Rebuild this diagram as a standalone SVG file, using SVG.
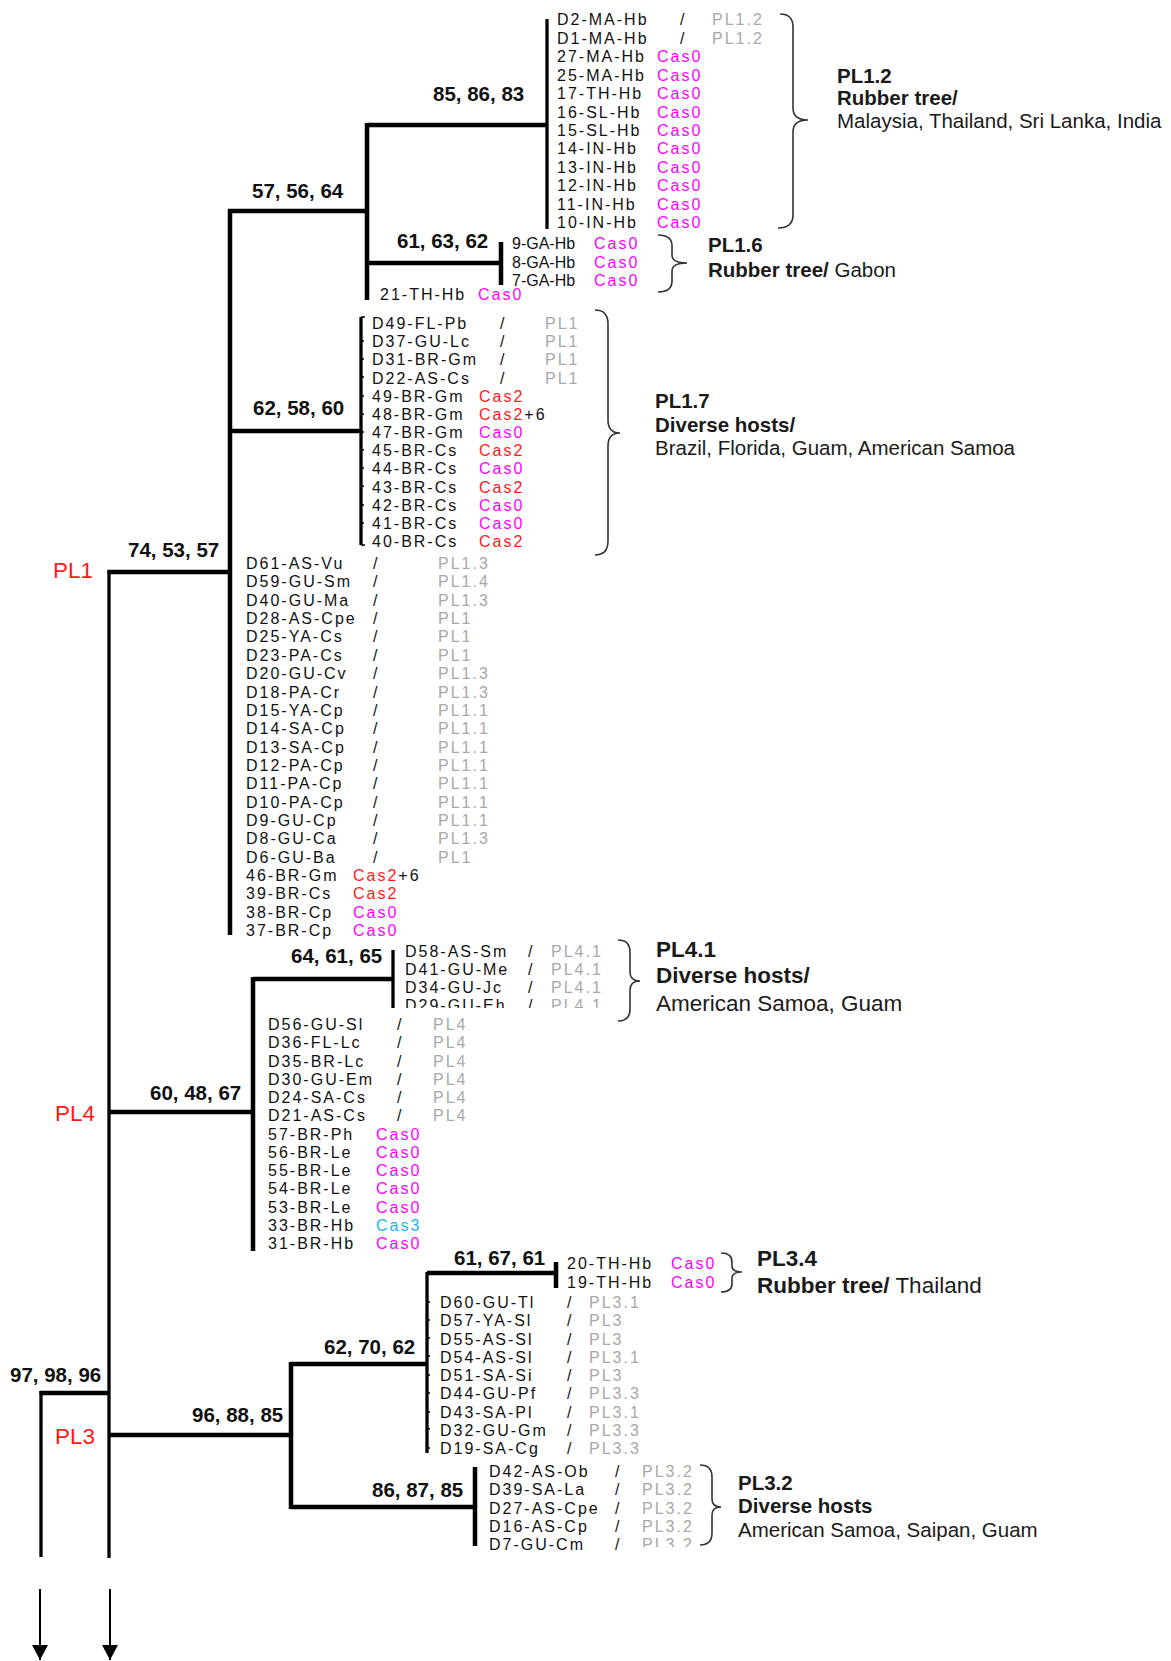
<svg xmlns="http://www.w3.org/2000/svg" width="1171" height="1661" viewBox="0 0 1171 1661">
<defs>
<style>
text{font-family:"Liberation Sans",Arial,sans-serif}
.lf{font-size:16px;letter-spacing:2px;fill:#111}
.ns{letter-spacing:0}
.g{fill:#a8a8a8}
.c0{fill:#ff00ff}
.c2{fill:#ff1a1a}
.c3{fill:#1ab8f0}
.bs{font-size:20.5px;font-weight:bold;fill:#111}
.red{font-size:22.5px;fill:#ff1a1a}
.gl{font-size:20.5px;fill:#1a1a1a}
.gl2{font-size:22.5px;fill:#1a1a1a}
.b{font-weight:bold}
.br{stroke:#000;fill:none;stroke-linecap:butt}
.t{stroke-width:4.5}
.m{stroke-width:3.3}
.brace{stroke:#333;stroke-width:1.6;fill:none}
.tick{stroke:#000;stroke-width:1.6}
</style>
<marker id="ah" markerWidth="15" markerHeight="16" refX="15" refY="8" orient="auto" markerUnits="userSpaceOnUse" viewBox="0 0 15 16">
<path d="M0,0 L15,8 L0,16 Z" fill="#000"/>
</marker>
<clipPath id="cl29"><rect x="380" y="995" width="240" height="13"/></clipPath>
<clipPath id="cl7"><rect x="630" y="1530" width="70" height="17"/></clipPath>
</defs>
<rect width="1171" height="1661" fill="#fff"/>

<g id="connectors">
<path class="br t" d="M367,125 H547"/>
<path class="br m" d="M547,19 V229"/>
<path class="br t" d="M367,123 V300"/>
<path class="br t" d="M367,263 H501"/>
<path class="br t" d="M501,242 V285"/>
<path class="br t" d="M228,211 H367"/>
<path class="br t" d="M230,209 V935"/>
<path class="br t" d="M230,431 H361"/>
<path class="br m" d="M361,317 V545"/>
<path class="br t" d="M107.5,572 H230"/>
<path class="br m" d="M109,570 V1558"/>
<path class="br t" d="M109,1112 H253"/>
<path class="br t" d="M253,977 V1251"/>
<path class="br t" d="M253,979 H393"/>
<path class="br m" d="M393,950 V1008"/>
<path class="br t" d="M109,1435 H291"/>
<path class="br t" d="M291,1362 V1509"/>
<path class="br t" d="M291,1364 H427"/>
<path class="br m" d="M427,1272 V1453"/>
<path class="br t" d="M427,1273 H556"/>
<path class="br t" d="M556,1262 V1288"/>
<path class="br t" d="M291,1507 H475"/>
<path class="br t" d="M475,1467 V1546"/>
<path class="br t" d="M39.5,1393 H109"/>
<path class="br m" d="M41,1391 V1557"/>
<path class="br" stroke-width="2" d="M40,1589 V1660" marker-end="url(#ah)"/>
<path class="br" stroke-width="2" d="M110,1589 V1660" marker-end="url(#ah)"/>
<g class="tick">
<path d="M361,317 h4 M361,341 h3 M361,359 h3 M361,377 h3 M361,396 h3 M361,414 h3 M361,432 h3 M361,450 h3 M361,468 h3 M361,486 h3 M361,505 h3 M361,523 h3 M361,545 h4"/>
<path d="M427,1302 h3 M427,1320 h3 M427,1338 h3 M427,1356 h3 M427,1375 h3 M427,1393 h3 M427,1412 h3 M427,1429 h3 M427,1448 h3"/>
</g>
</g>

<g id="support-labels" class="bs">
<text x="433" y="101">85, 86, 83</text>
<text x="252" y="198">57, 56, 64</text>
<text x="397" y="248">61, 63, 62</text>
<text x="253" y="415">62, 58, 60</text>
<text x="128" y="557">74, 53, 57</text>
<text x="291" y="963">64, 61, 65</text>
<text x="150" y="1100">60, 48, 67</text>
<text x="454" y="1265">61, 67, 61</text>
<text x="324" y="1354">62, 70, 62</text>
<text x="192" y="1422">96, 88, 85</text>
<text x="372" y="1497">86, 87, 85</text>
<text x="10" y="1382">97, 98, 96</text>
</g>

<g id="lineage-labels" class="red">
<text x="53" y="578">PL1</text>
<text x="55" y="1121">PL4</text>
<text x="55" y="1444">PL3</text>
</g>

<g id="clade-PL1.2" class="lf">
<text y="25"><tspan x="557">D2-MA-Hb</tspan><tspan x="680">/</tspan><tspan x="712" class="g">PL1.2</tspan></text>
<text y="43.5"><tspan x="557">D1-MA-Hb</tspan><tspan x="680">/</tspan><tspan x="712" class="g">PL1.2</tspan></text>
<text y="62"><tspan x="557">27-MA-Hb</tspan><tspan x="657" class="c0">Cas0</tspan></text>
<text y="80.5"><tspan x="557">25-MA-Hb</tspan><tspan x="657" class="c0">Cas0</tspan></text>
<text y="99"><tspan x="557">17-TH-Hb</tspan><tspan x="657" class="c0">Cas0</tspan></text>
<text y="117.5"><tspan x="557">16-SL-Hb</tspan><tspan x="657" class="c0">Cas0</tspan></text>
<text y="136"><tspan x="557">15-SL-Hb</tspan><tspan x="657" class="c0">Cas0</tspan></text>
<text y="154"><tspan x="557">14-IN-Hb</tspan><tspan x="657" class="c0">Cas0</tspan></text>
<text y="172.5"><tspan x="557">13-IN-Hb</tspan><tspan x="657" class="c0">Cas0</tspan></text>
<text y="191"><tspan x="557">12-IN-Hb</tspan><tspan x="657" class="c0">Cas0</tspan></text>
<text y="209.5"><tspan x="557">11-IN-Hb</tspan><tspan x="657" class="c0">Cas0</tspan></text>
<text y="228"><tspan x="557">10-IN-Hb</tspan><tspan x="657" class="c0">Cas0</tspan></text>
</g>
<g id="group-PL1.2">
<path class="brace" d="M780,14 Q793,14 793,27 V108 Q793,120 808,120 Q793,120 793,132 V215 Q793,228 778,228"/>
<text class="gl b" x="837" y="83">PL1.2</text>
<text class="gl b" x="837" y="105">Rubber tree/</text>
<text class="gl" x="837" y="128">Malaysia, Thailand, Sri Lanka, India</text>
</g>

<g id="clade-PL1.6" class="lf">
<text y="249"><tspan x="512" class="ns">9-GA-Hb</tspan><tspan x="594" class="c0">Cas0</tspan></text>
<text y="268"><tspan x="512" class="ns">8-GA-Hb</tspan><tspan x="594" class="c0">Cas0</tspan></text>
<text y="286"><tspan x="512" class="ns">7-GA-Hb</tspan><tspan x="594" class="c0">Cas0</tspan></text>
</g>
<g id="group-PL1.6">
<path class="brace" d="M658,235 Q672,235 672,246 V255 Q672,263 687,263 Q672,263 672,271 V281 Q672,292 658,292"/>
<text class="gl b" x="708" y="252">PL1.6</text>
<text class="gl" x="708" y="277"><tspan class="b">Rubber tree/</tspan> Gabon</text>
</g>

<g id="leaf-21-TH-Hb" class="lf">
<text y="300"><tspan x="380">21-TH-Hb</tspan><tspan x="478" class="c0">Cas0</tspan></text>
</g>

<g id="clade-PL1.7" class="lf">
<text y="329"><tspan x="372">D49-FL-Pb</tspan><tspan x="500">/</tspan><tspan x="545" class="g">PL1</tspan></text>
<text y="347.2"><tspan x="372">D37-GU-Lc</tspan><tspan x="500">/</tspan><tspan x="545" class="g">PL1</tspan></text>
<text y="365.3"><tspan x="372">D31-BR-Gm</tspan><tspan x="500">/</tspan><tspan x="545" class="g">PL1</tspan></text>
<text y="383.5"><tspan x="372">D22-AS-Cs</tspan><tspan x="500">/</tspan><tspan x="545" class="g">PL1</tspan></text>
<text y="401.7"><tspan x="372">49-BR-Gm</tspan><tspan x="479" class="c2">Cas2</tspan></text>
<text y="419.9"><tspan x="372">48-BR-Gm</tspan><tspan x="479" class="c2">Cas2</tspan><tspan>+6</tspan></text>
<text y="438"><tspan x="372">47-BR-Gm</tspan><tspan x="479" class="c0">Cas0</tspan></text>
<text y="456.2"><tspan x="372">45-BR-Cs</tspan><tspan x="479" class="c2">Cas2</tspan></text>
<text y="474.4"><tspan x="372">44-BR-Cs</tspan><tspan x="479" class="c0">Cas0</tspan></text>
<text y="492.5"><tspan x="372">43-BR-Cs</tspan><tspan x="479" class="c2">Cas2</tspan></text>
<text y="510.7"><tspan x="372">42-BR-Cs</tspan><tspan x="479" class="c0">Cas0</tspan></text>
<text y="528.9"><tspan x="372">41-BR-Cs</tspan><tspan x="479" class="c0">Cas0</tspan></text>
<text y="547"><tspan x="372">40-BR-Cs</tspan><tspan x="479" class="c2">Cas2</tspan></text>
</g>
<g id="group-PL1.7">
<path class="brace" d="M595,310 Q608,310 608,324 V420 Q608,433 620,433 Q608,433 608,446 V541 Q608,555 595,555"/>
<text class="gl b" x="655" y="408">PL1.7</text>
<text class="gl b" x="655" y="432">Diverse hosts/</text>
<text class="gl" x="655" y="455">Brazil, Florida, Guam, American Samoa</text>
</g>

<g id="clade-PL1" class="lf">
<text y="569"><tspan x="246">D61-AS-Vu</tspan><tspan x="373">/</tspan><tspan x="438" class="g">PL1.3</tspan></text>
<text y="587.4"><tspan x="246">D59-GU-Sm</tspan><tspan x="373">/</tspan><tspan x="438" class="g">PL1.4</tspan></text>
<text y="605.7"><tspan x="246">D40-GU-Ma</tspan><tspan x="373">/</tspan><tspan x="438" class="g">PL1.3</tspan></text>
<text y="624"><tspan x="246">D28-AS-Cpe</tspan><tspan x="373">/</tspan><tspan x="438" class="g">PL1</tspan></text>
<text y="642.4"><tspan x="246">D25-YA-Cs</tspan><tspan x="373">/</tspan><tspan x="438" class="g">PL1</tspan></text>
<text y="660.8"><tspan x="246">D23-PA-Cs</tspan><tspan x="373">/</tspan><tspan x="438" class="g">PL1</tspan></text>
<text y="679.1"><tspan x="246">D20-GU-Cv</tspan><tspan x="373">/</tspan><tspan x="438" class="g">PL1.3</tspan></text>
<text y="697.5"><tspan x="246">D18-PA-Cr</tspan><tspan x="373">/</tspan><tspan x="438" class="g">PL1.3</tspan></text>
<text y="715.8"><tspan x="246">D15-YA-Cp</tspan><tspan x="373">/</tspan><tspan x="438" class="g">PL1.1</tspan></text>
<text y="734.2"><tspan x="246">D14-SA-Cp</tspan><tspan x="373">/</tspan><tspan x="438" class="g">PL1.1</tspan></text>
<text y="752.5"><tspan x="246">D13-SA-Cp</tspan><tspan x="373">/</tspan><tspan x="438" class="g">PL1.1</tspan></text>
<text y="770.9"><tspan x="246">D12-PA-Cp</tspan><tspan x="373">/</tspan><tspan x="438" class="g">PL1.1</tspan></text>
<text y="789.2"><tspan x="246">D11-PA-Cp</tspan><tspan x="373">/</tspan><tspan x="438" class="g">PL1.1</tspan></text>
<text y="807.6"><tspan x="246">D10-PA-Cp</tspan><tspan x="373">/</tspan><tspan x="438" class="g">PL1.1</tspan></text>
<text y="825.9"><tspan x="246">D9-GU-Cp</tspan><tspan x="373">/</tspan><tspan x="438" class="g">PL1.1</tspan></text>
<text y="844.3"><tspan x="246">D8-GU-Ca</tspan><tspan x="373">/</tspan><tspan x="438" class="g">PL1.3</tspan></text>
<text y="862.6"><tspan x="246">D6-GU-Ba</tspan><tspan x="373">/</tspan><tspan x="438" class="g">PL1</tspan></text>
<text y="881"><tspan x="246">46-BR-Gm</tspan><tspan x="353" class="c2">Cas2</tspan><tspan>+6</tspan></text>
<text y="899.3"><tspan x="246">39-BR-Cs</tspan><tspan x="353" class="c2">Cas2</tspan></text>
<text y="917.7"><tspan x="246">38-BR-Cp</tspan><tspan x="353" class="c0">Cas0</tspan></text>
<text y="936"><tspan x="246">37-BR-Cp</tspan><tspan x="353" class="c0">Cas0</tspan></text>
</g>

<g id="clade-PL4.1" class="lf">
<text y="957"><tspan x="405">D58-AS-Sm</tspan><tspan x="528">/</tspan><tspan x="551" class="g">PL4.1</tspan></text>
<text y="975"><tspan x="405">D41-GU-Me</tspan><tspan x="528">/</tspan><tspan x="551" class="g">PL4.1</tspan></text>
<text y="993"><tspan x="405">D34-GU-Jc</tspan><tspan x="528">/</tspan><tspan x="551" class="g">PL4.1</tspan></text>
<text y="1011" clip-path="url(#cl29)"><tspan x="405">D29-GU-Eh</tspan><tspan x="528">/</tspan><tspan x="551" class="g">PL4.1</tspan></text>
</g>
<g id="group-PL4.1">
<path class="brace" d="M618,940 Q630,940 630,952 V972 Q630,981 640,981 Q630,981 630,990 V1009 Q630,1021 618,1021"/>
<text class="gl2 b" x="656" y="957">PL4.1</text>
<text class="gl2 b" x="656" y="983">Diverse hosts/</text>
<text class="gl2" x="656" y="1011">American Samoa, Guam</text>
</g>

<g id="clade-PL4" class="lf">
<text y="1030"><tspan x="268">D56-GU-Sl</tspan><tspan x="397">/</tspan><tspan x="433" class="g">PL4</tspan></text>
<text y="1048.3"><tspan x="268">D36-FL-Lc</tspan><tspan x="397">/</tspan><tspan x="433" class="g">PL4</tspan></text>
<text y="1066.5"><tspan x="268">D35-BR-Lc</tspan><tspan x="397">/</tspan><tspan x="433" class="g">PL4</tspan></text>
<text y="1084.8"><tspan x="268">D30-GU-Em</tspan><tspan x="397">/</tspan><tspan x="433" class="g">PL4</tspan></text>
<text y="1103"><tspan x="268">D24-SA-Cs</tspan><tspan x="397">/</tspan><tspan x="433" class="g">PL4</tspan></text>
<text y="1121.3"><tspan x="268">D21-AS-Cs</tspan><tspan x="397">/</tspan><tspan x="433" class="g">PL4</tspan></text>
<text y="1139.5"><tspan x="268">57-BR-Ph</tspan><tspan x="376" class="c0">Cas0</tspan></text>
<text y="1157.8"><tspan x="268">56-BR-Le</tspan><tspan x="376" class="c0">Cas0</tspan></text>
<text y="1176"><tspan x="268">55-BR-Le</tspan><tspan x="376" class="c0">Cas0</tspan></text>
<text y="1194.3"><tspan x="268">54-BR-Le</tspan><tspan x="376" class="c0">Cas0</tspan></text>
<text y="1212.5"><tspan x="268">53-BR-Le</tspan><tspan x="376" class="c0">Cas0</tspan></text>
<text y="1230.8"><tspan x="268">33-BR-Hb</tspan><tspan x="376" class="c3">Cas3</tspan></text>
<text y="1249"><tspan x="268">31-BR-Hb</tspan><tspan x="376" class="c0">Cas0</tspan></text>
</g>

<g id="clade-PL3.4" class="lf">
<text y="1269"><tspan x="567">20-TH-Hb</tspan><tspan x="671" class="c0">Cas0</tspan></text>
<text y="1288"><tspan x="567">19-TH-Hb</tspan><tspan x="671" class="c0">Cas0</tspan></text>
</g>
<g id="group-PL3.4">
<path class="brace" d="M721,1253 Q732,1253 732,1262 V1266 Q732,1272 742,1272 Q732,1272 732,1278 V1284 Q732,1292 721,1292"/>
<text class="gl2 b" x="757" y="1266">PL3.4</text>
<text class="gl2" x="757" y="1293"><tspan class="b">Rubber tree/</tspan> Thailand</text>
</g>

<g id="clade-PL3" class="lf">
<text y="1308"><tspan x="440">D60-GU-Tl</tspan><tspan x="567">/</tspan><tspan x="589" class="g">PL3.1</tspan></text>
<text y="1326.3"><tspan x="440">D57-YA-Sl</tspan><tspan x="567">/</tspan><tspan x="589" class="g">PL3</tspan></text>
<text y="1344.5"><tspan x="440">D55-AS-Sl</tspan><tspan x="567">/</tspan><tspan x="589" class="g">PL3</tspan></text>
<text y="1362.8"><tspan x="440">D54-AS-Sl</tspan><tspan x="567">/</tspan><tspan x="589" class="g">PL3.1</tspan></text>
<text y="1381"><tspan x="440">D51-SA-Si</tspan><tspan x="567">/</tspan><tspan x="589" class="g">PL3</tspan></text>
<text y="1399.3"><tspan x="440">D44-GU-Pf</tspan><tspan x="567">/</tspan><tspan x="589" class="g">PL3.3</tspan></text>
<text y="1417.5"><tspan x="440">D43-SA-Pl</tspan><tspan x="567">/</tspan><tspan x="589" class="g">PL3.1</tspan></text>
<text y="1435.8"><tspan x="440">D32-GU-Gm</tspan><tspan x="567">/</tspan><tspan x="589" class="g">PL3.3</tspan></text>
<text y="1454"><tspan x="440">D19-SA-Cg</tspan><tspan x="567">/</tspan><tspan x="589" class="g">PL3.3</tspan></text>
</g>

<g id="clade-PL3.2" class="lf">
<text y="1477"><tspan x="489">D42-AS-Ob</tspan><tspan x="615">/</tspan><tspan x="642" class="g">PL3.2</tspan></text>
<text y="1495.3"><tspan x="489">D39-SA-La</tspan><tspan x="615">/</tspan><tspan x="642" class="g">PL3.2</tspan></text>
<text y="1513.5"><tspan x="489">D27-AS-Cpe</tspan><tspan x="615">/</tspan><tspan x="642" class="g">PL3.2</tspan></text>
<text y="1531.8"><tspan x="489">D16-AS-Cp</tspan><tspan x="615">/</tspan><tspan x="642" class="g">PL3.2</tspan></text>
<text y="1550"><tspan x="489">D7-GU-Cm</tspan><tspan x="615">/</tspan></text>
<text y="1550" clip-path="url(#cl7)"><tspan x="642" class="g">PL3.2</tspan></text>
</g>
<g id="group-PL3.2">
<path class="brace" d="M700,1465 Q712,1465 712,1477 V1499 Q712,1507 721,1507 Q712,1507 712,1515 V1533 Q712,1545 700,1545"/>
<text class="gl b" x="738" y="1490">PL3.2</text>
<text class="gl b" x="738" y="1513">Diverse hosts</text>
<text class="gl" x="738" y="1537">American Samoa, Saipan, Guam</text>
</g>
</svg>
